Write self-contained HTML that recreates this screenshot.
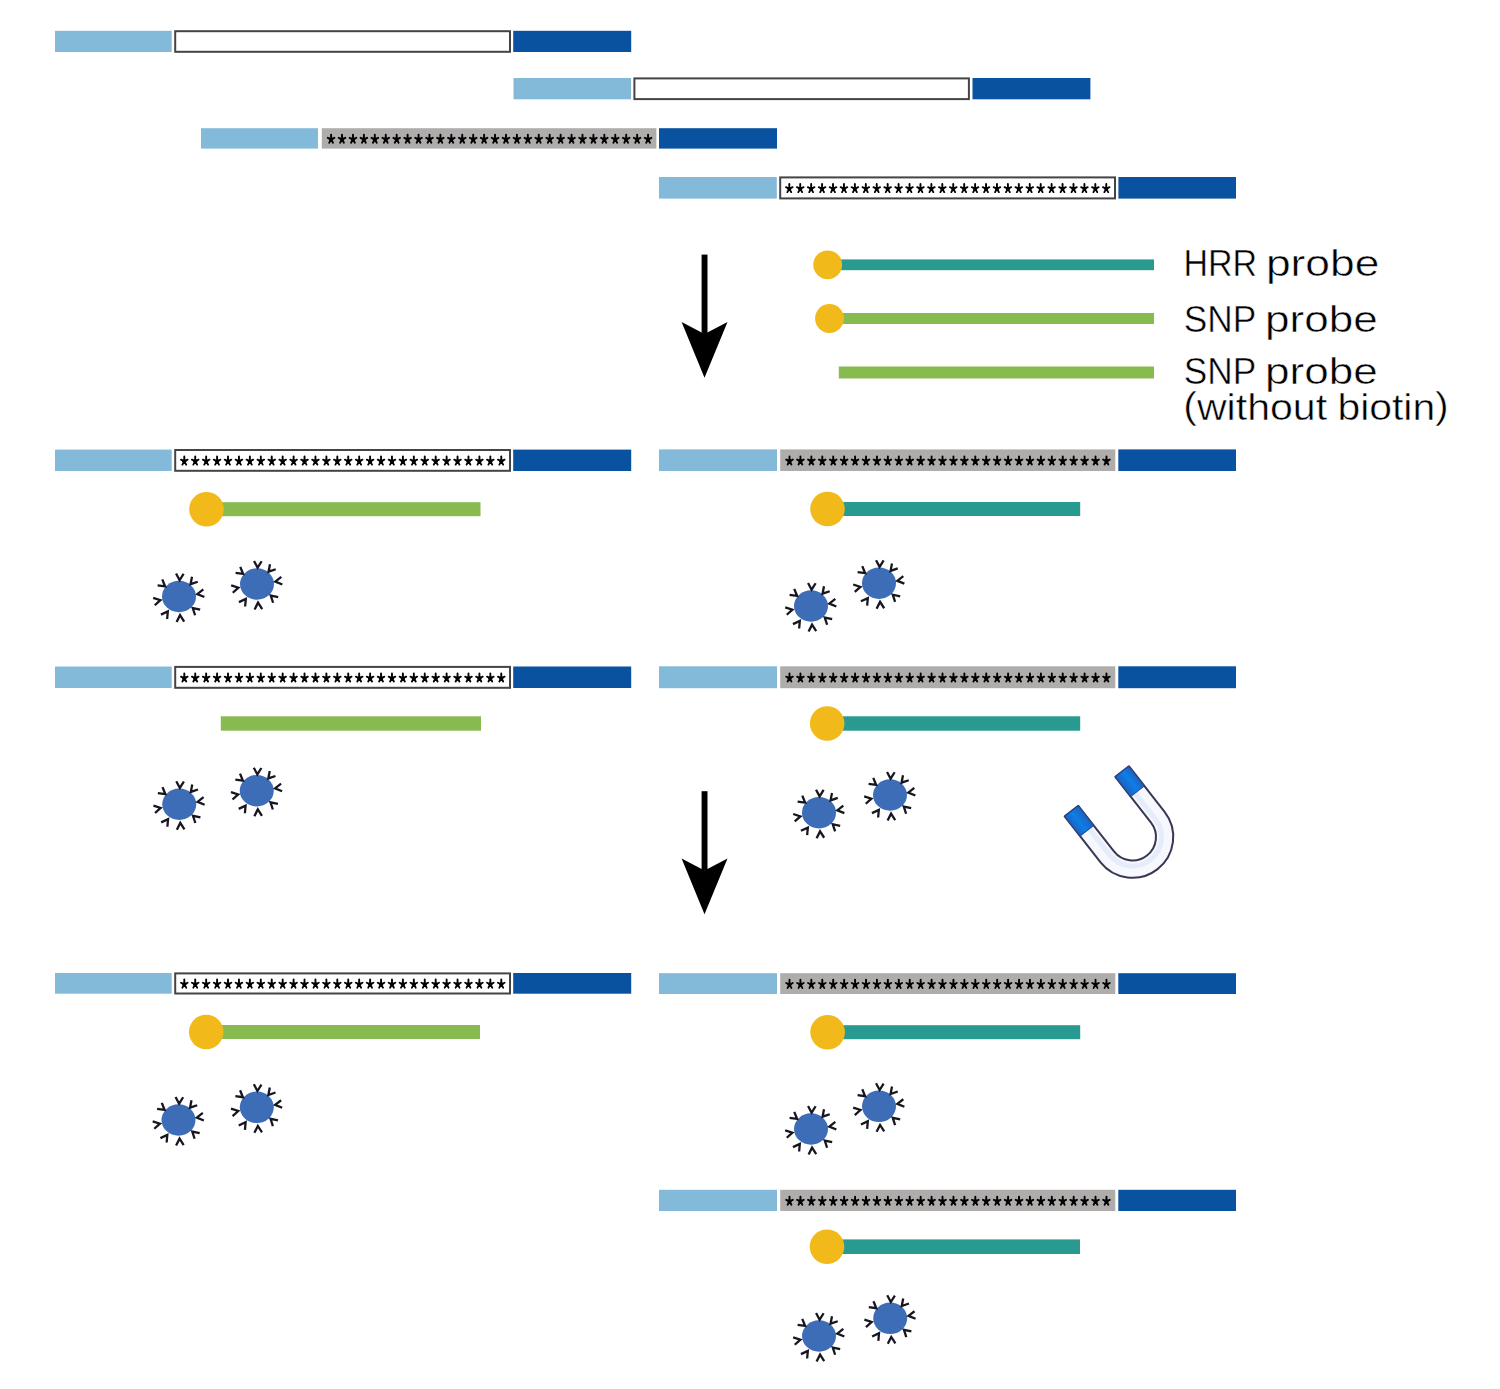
<!DOCTYPE html>
<html><head><meta charset="utf-8"><style>
html,body{margin:0;padding:0;background:#fff;}
body{width:1500px;height:1389px;overflow:hidden;font-family:"Liberation Sans",sans-serif;}
svg{display:block;position:absolute;left:0;top:0;}
</style></head><body>
<svg width="1500" height="1389" viewBox="0 0 1500 1389">
<defs><g id="st"><path d="M0,-4.8 L0,0 M-3.3,-1.6 L0,0 L3.3,-1.6 M-1.9,3.3 L0,0 L1.9,3.3" stroke="#000" stroke-width="1.9" stroke-linecap="round" fill="none"/><circle r="2.1" fill="#000"/></g><g id="bd"><ellipse cx="0" cy="0" rx="17.0" ry="15.7" fill="#3e6db8"/><path d="M-2.95,-23.00 L0.61,-16.29 L4.64,-22.74 M13.00,-19.76 L11.55,-12.30 L18.73,-14.78 M24.31,-7.07 L18.32,-2.39 L25.37,0.45 M21.18,13.09 L13.75,11.51 L16.10,18.74 M5.19,25.05 L1.05,18.67 L-2.40,25.45 M-11.85,22.48 L-11.18,14.91 L-18.07,18.12 M-24.23,8.77 L-18.58,3.68 L-25.81,1.33 M-21.40,-11.09 L-13.87,-10.04 L-16.72,-17.08" fill="none" stroke="#161620" stroke-width="2.3" stroke-linecap="butt" stroke-linejoin="miter"/></g><linearGradient id="capL" gradientUnits="userSpaceOnUse" x1="-40.75" y1="0" x2="-23.5" y2="0"><stop offset="0" stop-color="#1f62bd"/><stop offset="0.45" stop-color="#0b7fe8"/><stop offset="1" stop-color="#1f62bd"/></linearGradient><linearGradient id="capR" gradientUnits="userSpaceOnUse" x1="23.5" y1="0" x2="40.75" y2="0"><stop offset="0" stop-color="#1f62bd"/><stop offset="0.55" stop-color="#0b7fe8"/><stop offset="1" stop-color="#1f62bd"/></linearGradient></defs>
<rect width="1500" height="1389" fill="#fff"/>
<rect x="55" y="30.8" width="116.70" height="21.20" fill="#84bad9"/>
<rect x="513.2" y="30.8" width="118.00" height="21.20" fill="#0852a0"/>
<rect x="175.20" y="31.20" width="334.80" height="20.60" fill="#fff" stroke="#444444" stroke-width="2"/>
<rect x="513.5" y="78" width="117.50" height="21.30" fill="#84bad9"/>
<rect x="972.5" y="78" width="117.90" height="21.30" fill="#0852a0"/>
<rect x="634.40" y="78.40" width="334.50" height="20.70" fill="#fff" stroke="#444444" stroke-width="2"/>
<rect x="201" y="128.2" width="117.00" height="20.40" fill="#84bad9"/>
<rect x="659" y="128.2" width="118.00" height="20.40" fill="#0852a0"/>
<rect x="321.8" y="128.2" width="334.60" height="20.40" fill="#afacac"/>
<use href="#st" x="331.10" y="139.40"/>
<use href="#st" x="342.03" y="139.40"/>
<use href="#st" x="352.96" y="139.40"/>
<use href="#st" x="363.89" y="139.40"/>
<use href="#st" x="374.82" y="139.40"/>
<use href="#st" x="385.75" y="139.40"/>
<use href="#st" x="396.68" y="139.40"/>
<use href="#st" x="407.61" y="139.40"/>
<use href="#st" x="418.54" y="139.40"/>
<use href="#st" x="429.47" y="139.40"/>
<use href="#st" x="440.40" y="139.40"/>
<use href="#st" x="451.33" y="139.40"/>
<use href="#st" x="462.26" y="139.40"/>
<use href="#st" x="473.19" y="139.40"/>
<use href="#st" x="484.12" y="139.40"/>
<use href="#st" x="495.05" y="139.40"/>
<use href="#st" x="505.98" y="139.40"/>
<use href="#st" x="516.91" y="139.40"/>
<use href="#st" x="527.84" y="139.40"/>
<use href="#st" x="538.77" y="139.40"/>
<use href="#st" x="549.70" y="139.40"/>
<use href="#st" x="560.63" y="139.40"/>
<use href="#st" x="571.56" y="139.40"/>
<use href="#st" x="582.49" y="139.40"/>
<use href="#st" x="593.42" y="139.40"/>
<use href="#st" x="604.35" y="139.40"/>
<use href="#st" x="615.28" y="139.40"/>
<use href="#st" x="626.21" y="139.40"/>
<use href="#st" x="637.14" y="139.40"/>
<use href="#st" x="648.07" y="139.40"/>
<rect x="659" y="177" width="117.80" height="21.60" fill="#84bad9"/>
<rect x="1118.4" y="177" width="117.60" height="21.60" fill="#0852a0"/>
<rect x="780.20" y="177.40" width="334.80" height="21.00" fill="#fff" stroke="#444444" stroke-width="2"/>
<use href="#st" x="789.30" y="188.80"/>
<use href="#st" x="800.23" y="188.80"/>
<use href="#st" x="811.16" y="188.80"/>
<use href="#st" x="822.09" y="188.80"/>
<use href="#st" x="833.02" y="188.80"/>
<use href="#st" x="843.95" y="188.80"/>
<use href="#st" x="854.88" y="188.80"/>
<use href="#st" x="865.81" y="188.80"/>
<use href="#st" x="876.74" y="188.80"/>
<use href="#st" x="887.67" y="188.80"/>
<use href="#st" x="898.60" y="188.80"/>
<use href="#st" x="909.53" y="188.80"/>
<use href="#st" x="920.46" y="188.80"/>
<use href="#st" x="931.39" y="188.80"/>
<use href="#st" x="942.32" y="188.80"/>
<use href="#st" x="953.25" y="188.80"/>
<use href="#st" x="964.18" y="188.80"/>
<use href="#st" x="975.11" y="188.80"/>
<use href="#st" x="986.04" y="188.80"/>
<use href="#st" x="996.97" y="188.80"/>
<use href="#st" x="1007.90" y="188.80"/>
<use href="#st" x="1018.83" y="188.80"/>
<use href="#st" x="1029.76" y="188.80"/>
<use href="#st" x="1040.69" y="188.80"/>
<use href="#st" x="1051.62" y="188.80"/>
<use href="#st" x="1062.55" y="188.80"/>
<use href="#st" x="1073.48" y="188.80"/>
<use href="#st" x="1084.41" y="188.80"/>
<use href="#st" x="1095.34" y="188.80"/>
<use href="#st" x="1106.27" y="188.80"/>
<rect x="701.6" y="254.6" width="5.9" height="79.4" fill="#000"/>
<path d="M681.6,322.0 L704.5,334.0 L727.5,322.0 L704.5,377.7 Z" fill="#000"/>
<rect x="701.6" y="791.2" width="5.9" height="79.4" fill="#000"/>
<path d="M681.6,858.6 L704.5,870.6 L727.5,858.6 L704.5,914.3 Z" fill="#000"/>
<rect x="835.00" y="259.40" width="319.00" height="10.8" fill="#289a90"/>
<circle cx="827.7" cy="264.8" r="14.4" fill="#f1ba1a"/>
<rect x="837.00" y="313.00" width="317.00" height="11" fill="#87bb50"/>
<circle cx="829.5" cy="318.5" r="14.4" fill="#f1ba1a"/>
<rect x="838.80" y="366.50" width="315.20" height="12" fill="#87bb50"/>
<g font-family="Liberation Sans, sans-serif" font-size="37" fill="#000" stroke="#fff" stroke-width="0.5">
<text x="1183.41" y="275.7" textLength="73.67" lengthAdjust="spacingAndGlyphs">HRR</text>
<text x="1265.94" y="275.7" textLength="113.43" lengthAdjust="spacingAndGlyphs">probe</text>
<text x="1183.70" y="331.5" textLength="72.46" lengthAdjust="spacingAndGlyphs">SNP</text>
<text x="1264.96" y="331.5" textLength="112.70" lengthAdjust="spacingAndGlyphs">probe</text>
<text x="1183.70" y="383.7" textLength="72.46" lengthAdjust="spacingAndGlyphs">SNP</text>
<text x="1264.96" y="383.7" textLength="112.70" lengthAdjust="spacingAndGlyphs">probe</text>
<text x="1183.25" y="420.3" textLength="143.85" lengthAdjust="spacingAndGlyphs"><tspan dy="-2.8">(</tspan><tspan dy="2.8">without</tspan></text>
<text x="1337.47" y="420.3" textLength="111.27" lengthAdjust="spacingAndGlyphs"><tspan>biotin</tspan><tspan dy="-2.8">)</tspan></text>
</g>
<rect x="55" y="449.6" width="116.70" height="21.40" fill="#84bad9"/>
<rect x="513.2" y="449.6" width="118.00" height="21.40" fill="#0852a0"/>
<rect x="175.20" y="450.00" width="334.80" height="20.80" fill="#fff" stroke="#444444" stroke-width="2"/>
<use href="#st" x="184.30" y="461.30"/>
<use href="#st" x="195.23" y="461.30"/>
<use href="#st" x="206.16" y="461.30"/>
<use href="#st" x="217.09" y="461.30"/>
<use href="#st" x="228.02" y="461.30"/>
<use href="#st" x="238.95" y="461.30"/>
<use href="#st" x="249.88" y="461.30"/>
<use href="#st" x="260.81" y="461.30"/>
<use href="#st" x="271.74" y="461.30"/>
<use href="#st" x="282.67" y="461.30"/>
<use href="#st" x="293.60" y="461.30"/>
<use href="#st" x="304.53" y="461.30"/>
<use href="#st" x="315.46" y="461.30"/>
<use href="#st" x="326.39" y="461.30"/>
<use href="#st" x="337.32" y="461.30"/>
<use href="#st" x="348.25" y="461.30"/>
<use href="#st" x="359.18" y="461.30"/>
<use href="#st" x="370.11" y="461.30"/>
<use href="#st" x="381.04" y="461.30"/>
<use href="#st" x="391.97" y="461.30"/>
<use href="#st" x="402.90" y="461.30"/>
<use href="#st" x="413.83" y="461.30"/>
<use href="#st" x="424.76" y="461.30"/>
<use href="#st" x="435.69" y="461.30"/>
<use href="#st" x="446.62" y="461.30"/>
<use href="#st" x="457.55" y="461.30"/>
<use href="#st" x="468.48" y="461.30"/>
<use href="#st" x="479.41" y="461.30"/>
<use href="#st" x="490.34" y="461.30"/>
<use href="#st" x="501.27" y="461.30"/>
<rect x="659" y="449.4" width="118.00" height="21.60" fill="#84bad9"/>
<rect x="1118.3" y="449.4" width="117.70" height="21.60" fill="#0852a0"/>
<rect x="780.2" y="449.4" width="335.10" height="21.60" fill="#afacac"/>
<use href="#st" x="789.50" y="461.20"/>
<use href="#st" x="800.43" y="461.20"/>
<use href="#st" x="811.36" y="461.20"/>
<use href="#st" x="822.29" y="461.20"/>
<use href="#st" x="833.22" y="461.20"/>
<use href="#st" x="844.15" y="461.20"/>
<use href="#st" x="855.08" y="461.20"/>
<use href="#st" x="866.01" y="461.20"/>
<use href="#st" x="876.94" y="461.20"/>
<use href="#st" x="887.87" y="461.20"/>
<use href="#st" x="898.80" y="461.20"/>
<use href="#st" x="909.73" y="461.20"/>
<use href="#st" x="920.66" y="461.20"/>
<use href="#st" x="931.59" y="461.20"/>
<use href="#st" x="942.52" y="461.20"/>
<use href="#st" x="953.45" y="461.20"/>
<use href="#st" x="964.38" y="461.20"/>
<use href="#st" x="975.31" y="461.20"/>
<use href="#st" x="986.24" y="461.20"/>
<use href="#st" x="997.17" y="461.20"/>
<use href="#st" x="1008.10" y="461.20"/>
<use href="#st" x="1019.03" y="461.20"/>
<use href="#st" x="1029.96" y="461.20"/>
<use href="#st" x="1040.89" y="461.20"/>
<use href="#st" x="1051.82" y="461.20"/>
<use href="#st" x="1062.75" y="461.20"/>
<use href="#st" x="1073.68" y="461.20"/>
<use href="#st" x="1084.61" y="461.20"/>
<use href="#st" x="1095.54" y="461.20"/>
<use href="#st" x="1106.47" y="461.20"/>
<rect x="215.00" y="502.20" width="265.50" height="14" fill="#87bb50"/>
<circle cx="206.5" cy="509.2" r="17.3" fill="#f1ba1a"/>
<rect x="836.00" y="502.00" width="244.20" height="14" fill="#289a90"/>
<circle cx="827.5" cy="509.0" r="17.3" fill="#f1ba1a"/>
<use href="#bd" x="179" y="596.5"/>
<use href="#bd" x="257" y="584"/>
<use href="#bd" x="811" y="606"/>
<use href="#bd" x="879" y="583.2"/>
<rect x="55" y="666.5" width="116.70" height="21.50" fill="#84bad9"/>
<rect x="513.2" y="666.5" width="118.00" height="21.50" fill="#0852a0"/>
<rect x="175.20" y="666.90" width="334.80" height="20.90" fill="#fff" stroke="#444444" stroke-width="2"/>
<use href="#st" x="184.30" y="678.25"/>
<use href="#st" x="195.23" y="678.25"/>
<use href="#st" x="206.16" y="678.25"/>
<use href="#st" x="217.09" y="678.25"/>
<use href="#st" x="228.02" y="678.25"/>
<use href="#st" x="238.95" y="678.25"/>
<use href="#st" x="249.88" y="678.25"/>
<use href="#st" x="260.81" y="678.25"/>
<use href="#st" x="271.74" y="678.25"/>
<use href="#st" x="282.67" y="678.25"/>
<use href="#st" x="293.60" y="678.25"/>
<use href="#st" x="304.53" y="678.25"/>
<use href="#st" x="315.46" y="678.25"/>
<use href="#st" x="326.39" y="678.25"/>
<use href="#st" x="337.32" y="678.25"/>
<use href="#st" x="348.25" y="678.25"/>
<use href="#st" x="359.18" y="678.25"/>
<use href="#st" x="370.11" y="678.25"/>
<use href="#st" x="381.04" y="678.25"/>
<use href="#st" x="391.97" y="678.25"/>
<use href="#st" x="402.90" y="678.25"/>
<use href="#st" x="413.83" y="678.25"/>
<use href="#st" x="424.76" y="678.25"/>
<use href="#st" x="435.69" y="678.25"/>
<use href="#st" x="446.62" y="678.25"/>
<use href="#st" x="457.55" y="678.25"/>
<use href="#st" x="468.48" y="678.25"/>
<use href="#st" x="479.41" y="678.25"/>
<use href="#st" x="490.34" y="678.25"/>
<use href="#st" x="501.27" y="678.25"/>
<rect x="659" y="666.3" width="118.00" height="21.90" fill="#84bad9"/>
<rect x="1118.3" y="666.3" width="117.70" height="21.90" fill="#0852a0"/>
<rect x="780.2" y="666.3" width="335.10" height="21.90" fill="#afacac"/>
<use href="#st" x="789.50" y="678.25"/>
<use href="#st" x="800.43" y="678.25"/>
<use href="#st" x="811.36" y="678.25"/>
<use href="#st" x="822.29" y="678.25"/>
<use href="#st" x="833.22" y="678.25"/>
<use href="#st" x="844.15" y="678.25"/>
<use href="#st" x="855.08" y="678.25"/>
<use href="#st" x="866.01" y="678.25"/>
<use href="#st" x="876.94" y="678.25"/>
<use href="#st" x="887.87" y="678.25"/>
<use href="#st" x="898.80" y="678.25"/>
<use href="#st" x="909.73" y="678.25"/>
<use href="#st" x="920.66" y="678.25"/>
<use href="#st" x="931.59" y="678.25"/>
<use href="#st" x="942.52" y="678.25"/>
<use href="#st" x="953.45" y="678.25"/>
<use href="#st" x="964.38" y="678.25"/>
<use href="#st" x="975.31" y="678.25"/>
<use href="#st" x="986.24" y="678.25"/>
<use href="#st" x="997.17" y="678.25"/>
<use href="#st" x="1008.10" y="678.25"/>
<use href="#st" x="1019.03" y="678.25"/>
<use href="#st" x="1029.96" y="678.25"/>
<use href="#st" x="1040.89" y="678.25"/>
<use href="#st" x="1051.82" y="678.25"/>
<use href="#st" x="1062.75" y="678.25"/>
<use href="#st" x="1073.68" y="678.25"/>
<use href="#st" x="1084.61" y="678.25"/>
<use href="#st" x="1095.54" y="678.25"/>
<use href="#st" x="1106.47" y="678.25"/>
<rect x="220.80" y="716.30" width="260.20" height="14.4" fill="#87bb50"/>
<rect x="836.00" y="716.30" width="244.20" height="14.4" fill="#289a90"/>
<circle cx="827.2" cy="723.5" r="17.3" fill="#f1ba1a"/>
<use href="#bd" x="179.25" y="804.25"/>
<use href="#bd" x="256.75" y="790.75"/>
<use href="#bd" x="819" y="812.7"/>
<use href="#bd" x="890" y="795"/>
<g transform="translate(1132.5,837) rotate(-38)">
<path d="M-40.75,-58 L-40.75,0 A40.75,40.75 0 0 0 40.75,0 L40.75,-58 L23.5,-58 L23.5,0 A23.5,23.5 0 0 1 -23.5,0 L-23.5,-58 Z" fill="#f7f8fd" stroke="#3a3756" stroke-width="2" stroke-linejoin="round"/>
<path d="M-29,-33 L-29,0 A29,29 0 0 0 29,0 L29,-33" fill="none" stroke="#e6ecfa" stroke-width="5"/>
<rect x="-40.75" y="-58" width="17.25" height="25" rx="1.5" fill="url(#capL)" stroke="#24479a" stroke-width="1"/>
<rect x="23.5" y="-58" width="17.25" height="25" rx="1.5" fill="url(#capR)" stroke="#24479a" stroke-width="1"/>
</g>
<rect x="55" y="973" width="116.70" height="20.70" fill="#84bad9"/>
<rect x="513.2" y="973" width="118.00" height="20.70" fill="#0852a0"/>
<rect x="175.20" y="973.40" width="334.80" height="20.10" fill="#fff" stroke="#444444" stroke-width="2"/>
<use href="#st" x="184.30" y="984.35"/>
<use href="#st" x="195.23" y="984.35"/>
<use href="#st" x="206.16" y="984.35"/>
<use href="#st" x="217.09" y="984.35"/>
<use href="#st" x="228.02" y="984.35"/>
<use href="#st" x="238.95" y="984.35"/>
<use href="#st" x="249.88" y="984.35"/>
<use href="#st" x="260.81" y="984.35"/>
<use href="#st" x="271.74" y="984.35"/>
<use href="#st" x="282.67" y="984.35"/>
<use href="#st" x="293.60" y="984.35"/>
<use href="#st" x="304.53" y="984.35"/>
<use href="#st" x="315.46" y="984.35"/>
<use href="#st" x="326.39" y="984.35"/>
<use href="#st" x="337.32" y="984.35"/>
<use href="#st" x="348.25" y="984.35"/>
<use href="#st" x="359.18" y="984.35"/>
<use href="#st" x="370.11" y="984.35"/>
<use href="#st" x="381.04" y="984.35"/>
<use href="#st" x="391.97" y="984.35"/>
<use href="#st" x="402.90" y="984.35"/>
<use href="#st" x="413.83" y="984.35"/>
<use href="#st" x="424.76" y="984.35"/>
<use href="#st" x="435.69" y="984.35"/>
<use href="#st" x="446.62" y="984.35"/>
<use href="#st" x="457.55" y="984.35"/>
<use href="#st" x="468.48" y="984.35"/>
<use href="#st" x="479.41" y="984.35"/>
<use href="#st" x="490.34" y="984.35"/>
<use href="#st" x="501.27" y="984.35"/>
<rect x="659" y="973.2" width="118.00" height="20.80" fill="#84bad9"/>
<rect x="1118.3" y="973.2" width="117.70" height="20.80" fill="#0852a0"/>
<rect x="780.2" y="973.2" width="335.10" height="20.80" fill="#afacac"/>
<use href="#st" x="789.50" y="984.60"/>
<use href="#st" x="800.43" y="984.60"/>
<use href="#st" x="811.36" y="984.60"/>
<use href="#st" x="822.29" y="984.60"/>
<use href="#st" x="833.22" y="984.60"/>
<use href="#st" x="844.15" y="984.60"/>
<use href="#st" x="855.08" y="984.60"/>
<use href="#st" x="866.01" y="984.60"/>
<use href="#st" x="876.94" y="984.60"/>
<use href="#st" x="887.87" y="984.60"/>
<use href="#st" x="898.80" y="984.60"/>
<use href="#st" x="909.73" y="984.60"/>
<use href="#st" x="920.66" y="984.60"/>
<use href="#st" x="931.59" y="984.60"/>
<use href="#st" x="942.52" y="984.60"/>
<use href="#st" x="953.45" y="984.60"/>
<use href="#st" x="964.38" y="984.60"/>
<use href="#st" x="975.31" y="984.60"/>
<use href="#st" x="986.24" y="984.60"/>
<use href="#st" x="997.17" y="984.60"/>
<use href="#st" x="1008.10" y="984.60"/>
<use href="#st" x="1019.03" y="984.60"/>
<use href="#st" x="1029.96" y="984.60"/>
<use href="#st" x="1040.89" y="984.60"/>
<use href="#st" x="1051.82" y="984.60"/>
<use href="#st" x="1062.75" y="984.60"/>
<use href="#st" x="1073.68" y="984.60"/>
<use href="#st" x="1084.61" y="984.60"/>
<use href="#st" x="1095.54" y="984.60"/>
<use href="#st" x="1106.47" y="984.60"/>
<rect x="215.00" y="1025.00" width="265.00" height="14" fill="#87bb50"/>
<circle cx="206.2" cy="1032" r="17.3" fill="#f1ba1a"/>
<rect x="836.00" y="1025.20" width="244.20" height="14" fill="#289a90"/>
<circle cx="827.6" cy="1032.2" r="17.3" fill="#f1ba1a"/>
<use href="#bd" x="178.5" y="1120"/>
<use href="#bd" x="256.8" y="1107.3"/>
<use href="#bd" x="811" y="1129"/>
<use href="#bd" x="879" y="1106.3"/>
<rect x="659" y="1189.8" width="118.00" height="21.20" fill="#84bad9"/>
<rect x="1118.3" y="1189.8" width="117.70" height="21.20" fill="#0852a0"/>
<rect x="780.2" y="1189.8" width="335.10" height="21.20" fill="#afacac"/>
<use href="#st" x="789.50" y="1201.40"/>
<use href="#st" x="800.43" y="1201.40"/>
<use href="#st" x="811.36" y="1201.40"/>
<use href="#st" x="822.29" y="1201.40"/>
<use href="#st" x="833.22" y="1201.40"/>
<use href="#st" x="844.15" y="1201.40"/>
<use href="#st" x="855.08" y="1201.40"/>
<use href="#st" x="866.01" y="1201.40"/>
<use href="#st" x="876.94" y="1201.40"/>
<use href="#st" x="887.87" y="1201.40"/>
<use href="#st" x="898.80" y="1201.40"/>
<use href="#st" x="909.73" y="1201.40"/>
<use href="#st" x="920.66" y="1201.40"/>
<use href="#st" x="931.59" y="1201.40"/>
<use href="#st" x="942.52" y="1201.40"/>
<use href="#st" x="953.45" y="1201.40"/>
<use href="#st" x="964.38" y="1201.40"/>
<use href="#st" x="975.31" y="1201.40"/>
<use href="#st" x="986.24" y="1201.40"/>
<use href="#st" x="997.17" y="1201.40"/>
<use href="#st" x="1008.10" y="1201.40"/>
<use href="#st" x="1019.03" y="1201.40"/>
<use href="#st" x="1029.96" y="1201.40"/>
<use href="#st" x="1040.89" y="1201.40"/>
<use href="#st" x="1051.82" y="1201.40"/>
<use href="#st" x="1062.75" y="1201.40"/>
<use href="#st" x="1073.68" y="1201.40"/>
<use href="#st" x="1084.61" y="1201.40"/>
<use href="#st" x="1095.54" y="1201.40"/>
<use href="#st" x="1106.47" y="1201.40"/>
<rect x="836.00" y="1239.40" width="244.00" height="14.6" fill="#289a90"/>
<circle cx="827" cy="1246.7" r="17.3" fill="#f1ba1a"/>
<use href="#bd" x="819" y="1336"/>
<use href="#bd" x="890.2" y="1318.3"/>
</svg>
</body></html>
